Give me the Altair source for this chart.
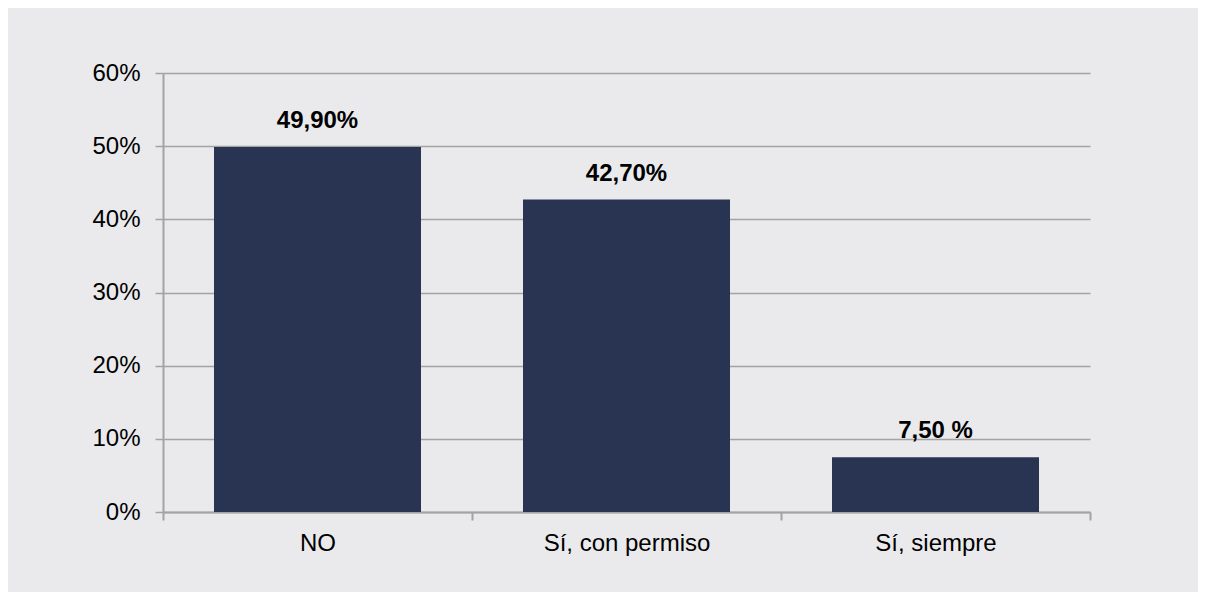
import altair as alt
import pandas as pd

categories = ["NO", "Sí, con permiso", "Sí, siempre"]
values = [0.499, 0.427, 0.075]
value_labels = ["49,90%", "42,70%", "7,50 %"]

df = pd.DataFrame({"cat": categories, "val": values, "lab": value_labels})

FONT = "Liberation Sans"
GRID = "#a3a3a3"

x = alt.X(
    "cat:N",
    sort=categories,
    title=None,
    scale=alt.Scale(paddingInner=0, paddingOuter=0),
    axis=alt.Axis(
        labelAngle=0,
        labelFont=FONT,
        labelFontSize=24,
        labelColor="#000000",
        labelPadding=11,
        tickBand="extent",
        tickSize=8,
        tickColor=GRID,
        tickWidth=2,
        domainColor=GRID,
        domainWidth=2,
        grid=False,
    ),
)

y = alt.Y(
    "val:Q",
    title=None,
    scale=alt.Scale(domain=[0, 0.6], nice=False),
    axis=alt.Axis(
        values=[0, 0.1, 0.2, 0.3, 0.4, 0.5, 0.6],
        format=".0%",
        labelFont=FONT,
        labelFontSize=24,
        labelColor="#000000",
        labelPadding=15,
        tickSize=8,
        tickColor=GRID,
        tickWidth=1.5,
        domainColor=GRID,
        domainWidth=2,
        grid=True,
        gridColor=GRID,
        gridWidth=1.5,
    ),
)

base = alt.Chart(df)

bars = base.mark_bar(color="#293452", width=207).encode(x=x, y=y)

text = base.mark_text(
    font=FONT,
    fontSize=24,
    fontWeight="bold",
    color="#000000",
    baseline="alphabetic",
    dy=-19,
).encode(x=alt.X("cat:N", sort=categories), y="val:Q", text="lab:N")

chart = (
    alt.layer(bars, text)
    .properties(
        width=927,
        height=439,
        background="#eaeaec",
        padding={"left": 155, "top": 65, "right": 108, "bottom": 80},
        autosize=alt.AutoSizeParams(type="none"),
    )
    .configure_view(stroke=None)
)

chart.save("out.html", embed_options={"renderer": "svg", "actions": False})
